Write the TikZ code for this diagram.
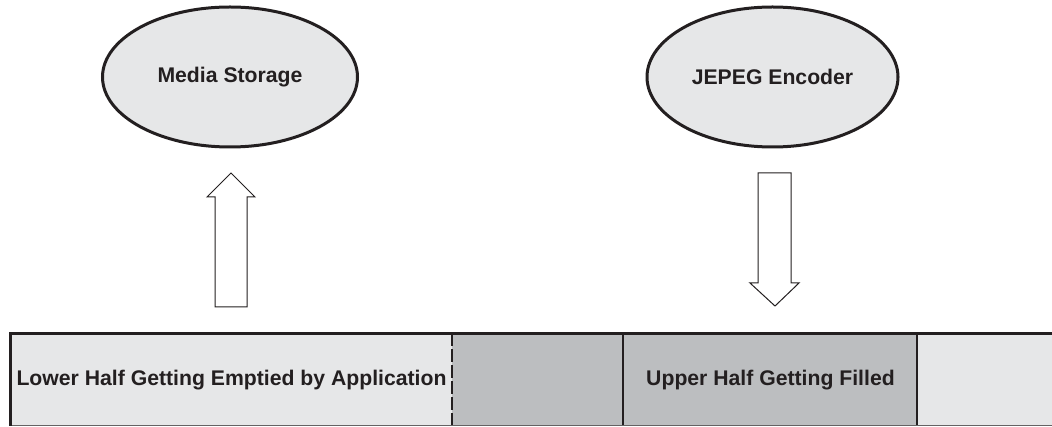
\documentclass[tikz,border=0pt]{standalone}
\usepackage{fontspec}
\setmainfont{Liberation Sans}
\usetikzlibrary{shapes.geometric}
\definecolor{lightcell}{HTML}{E6E7E8}
\definecolor{darkcell}{HTML}{BCBEC0}
\definecolor{ink}{HTML}{231F20}
\begin{document}
\begin{tikzpicture}[x=1pt,y=1pt,
  lbl/.style={font=\fontsize{21.2}{24}\selectfont\bfseries, text=ink, inner sep=0pt},
  oval/.style={ellipse, draw=ink, line width=3pt, fill=lightcell, minimum width=255pt, minimum height=140pt, inner sep=0pt},
  blockarrow/.style={draw=ink, line width=1pt, fill=white, line join=miter},
  divider/.style={draw=ink, line width=1.5pt}]
\useasboundingbox (0,0) rectangle (1052,426);
% ellipses
\node[oval] (media) at (230,349) {};
\node[lbl] at (media.center) {Media Storage};
\node[oval, minimum width=251pt] (enc) at (772.5,349) {};
\node[lbl] at (enc.center) {JEPEG Encoder};
% block arrows
\draw[blockarrow] (215,119) -- (215,229) -- (207,229) -- (231,253) -- (255,229) -- (247,229) -- (247,119) -- cycle;
\draw[blockarrow] (758,253) -- (758,143) -- (750,143) -- (775,120) -- (799,143) -- (791,143) -- (791,253) -- cycle;
% bar cells
\fill[lightcell] (10,1) rectangle (452,93);
\fill[darkcell] (452,1) rectangle (623,93);
\fill[darkcell] (623,1) rectangle (917,93);
\fill[lightcell] (917,1) rectangle (1052,93);
\draw[draw=ink, line width=1.5pt, dash pattern=on 13pt off 3pt] (452,93) -- (452,1);
\draw[divider] (623,93) -- (623,1);
\draw[divider] (917,93) -- (917,1);
\draw[draw=ink!70, line width=1pt] (10,1) -- (1052,1);
\draw[draw=ink, line width=3pt] (1052,93) -- (10,93) -- (10,0);
\node[lbl] (lower) at (231.5,46) {Lower Half Getting Emptied by Application};
\node[lbl] (upper) at (770.5,46) {Upper Half Getting Filled};
\end{tikzpicture}
\end{document}
